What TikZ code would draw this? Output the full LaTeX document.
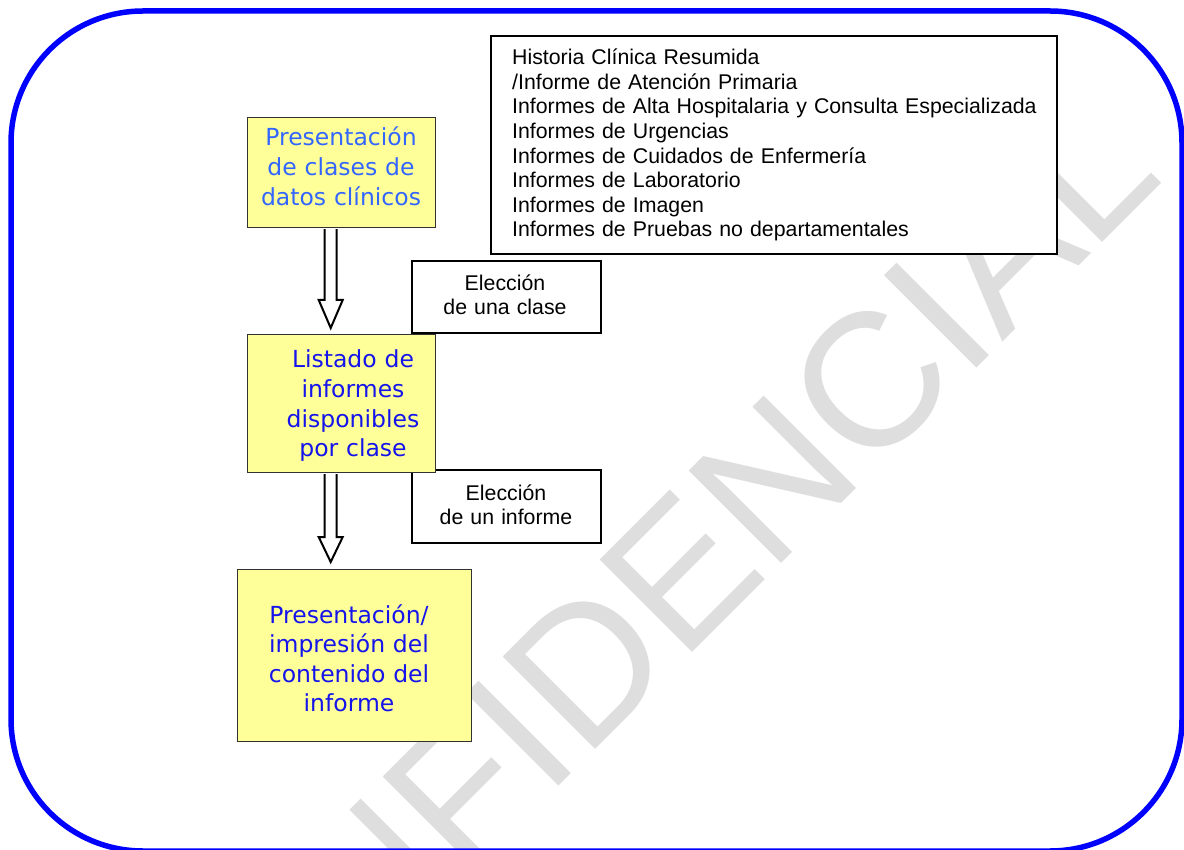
\documentclass[tikz,border=0pt]{standalone}
\usepackage{fontspec}
\setmainfont{Liberation Sans}
\newfontfamily\widesans{DejaVu Sans}
\usetikzlibrary{calc}
\definecolor{frameblue}{RGB}{0,0,255}
\definecolor{paleyellow}{RGB}{255,255,153}
\definecolor{lightblue}{RGB}{51,102,255}
\definecolor{deepblue}{RGB}{20,20,235}
\definecolor{wmgray}{RGB}{222,222,222}
\definecolor{edgegray}{RGB}{50,50,50}

\begin{document}
\begin{tikzpicture}[x=1pt,y=-1pt,
  ybox/.style={rectangle, draw=edgegray, line width=1.4pt, fill=paleyellow, inner sep=0pt, anchor=north west},
  wbox/.style={rectangle, draw=black, line width=1.8pt, fill=white, inner sep=0pt, anchor=north west},
  ytext/.style={anchor=base, text width=230pt, align=center, inner sep=0pt,
    font=\widesans\fontsize{23.5}{29.6}\selectfont},
  btext/.style={anchor=base, text width=200pt, align=center, inner sep=0pt,
    font=\fontsize{21.3}{24}\selectfont},
  hollow/.style={draw=black, line width=2pt, fill=white, line join=miter}]

\useasboundingbox (0,0) rectangle (1184,850);

% watermark and outer frame
\begin{scope}
  \clip (0,0) rectangle (1184,850);
  \node[anchor=base west, rotate=45, inner sep=0pt, text=wmgray,
        font=\fontsize{190}{190}\selectfont] (wm) at (166,1179) {CONFIDENCIAL};
  \draw[frameblue, line width=5.5pt, rounded corners=132pt] (11,11) rectangle (1182,851);
\end{scope}

% side notes
\node[wbox, minimum width=189pt, minimum height=72pt] (c1) at (411,260) {};
\node[btext] (ct1) at (505,291) {Elección\\de una clase};
\node[wbox, minimum width=189pt, minimum height=73pt] (c2) at (411,469) {};
\node[btext] (ct2) at (506,500) {Elección\\de un informe};

% list of report classes
\node[wbox, minimum width=566pt, minimum height=218pt] (lst) at (490,35) {};
\node[anchor=base west, text width=540pt, align=left, inner sep=0pt,
      font=\fontsize{21.3}{24.6}\selectfont] (lt) at (512,64.8)
  {Historia Clínica Resumida\\
   /Informe de Atención Primaria\\
   Informes de Alta Hospitalaria y Consulta Especializada\\
   Informes de Urgencias\\
   Informes de Cuidados de Enfermería\\
   Informes de Laboratorio\\
   Informes de Imagen\\
   Informes de Pruebas no departamentales};

% flow boxes
\node[ybox, minimum width=188pt, minimum height=110pt] (b1) at (247,117) {};
\node[ybox, minimum width=188pt, minimum height=138pt] (b2) at (247,334) {};
\node[ybox, minimum width=234pt, minimum height=172pt] (b3) at (237,569) {};

% hollow block arrows between the flow boxes
\coordinate (a1) at ($(b1.south)+(-11,0.8)$);
\coordinate (a1tip) at ($(b2.north)+(-11,-6)$);
\draw[hollow] ($(a1)+(-6,0)$) -- ($(a1tip)+(-6,-28)$) -- ($(a1tip)+(-12,-28)$) -- (a1tip)
  -- ($(a1tip)+(12,-28)$) -- ($(a1tip)+(6,-28)$) -- ($(a1)+(6,0)$);
\coordinate (a2) at ($(b2.south)+(-11,0.8)$);
\coordinate (a2tip) at ($(b3.north)+(-24,-7)$);
\draw[hollow] ($(a2)+(-6,0)$) -- ($(a2tip)+(-6,-25)$) -- ($(a2tip)+(-12,-25)$) -- (a2tip)
  -- ($(a2tip)+(12,-25)$) -- ($(a2tip)+(6,-25)$) -- ($(a2)+(6,0)$);

\node[ytext, text=lightblue] (t1) at (341,146) {Presentación\\de clases de\\datos clínicos};
\node[ytext, text=deepblue] (t2) at (353,368) {Listado de\\informes\\disponibles\\por clase};
\node[ytext, text=deepblue] (t3) at (349,623) {Presentación/\\impresión del\\contenido del\\informe};

\end{tikzpicture}
\end{document}
